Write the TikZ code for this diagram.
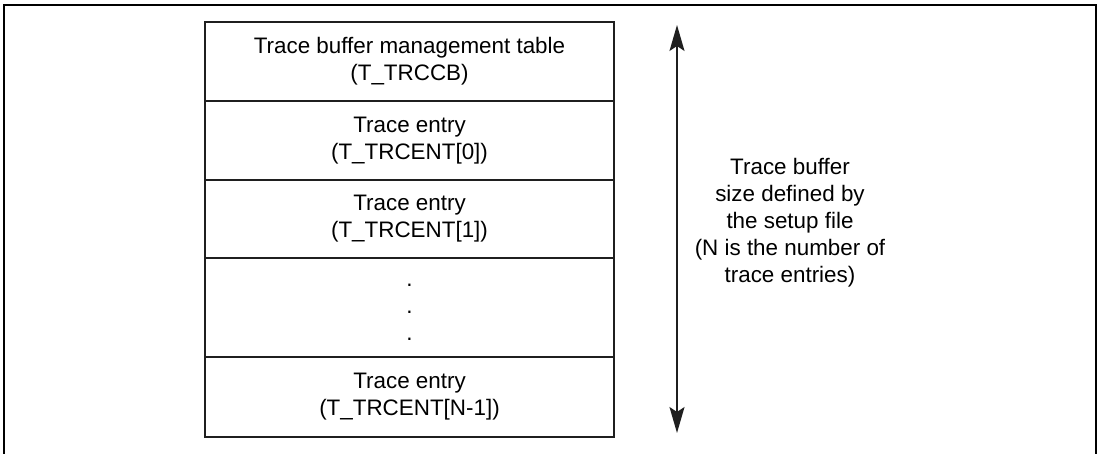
\documentclass[tikz,border=0pt]{standalone}
\usepackage{fontspec}
\setmainfont{Liberation Sans}
\usetikzlibrary{arrows.meta}
\begin{document}
\begin{tikzpicture}[x=1pt,y=-1pt,
  frame/.style={line width=2.8pt, draw=black},
  cell/.style={draw=black!88, line width=2.3pt, minimum width=409pt, inner sep=0pt,
    outer sep=0pt, align=center, anchor=north, font=\fontsize{22.4}{27}\selectfont},
  sidenote/.style={align=center, inner sep=0pt, font=\fontsize{22.4}{27}\selectfont},
  span/.style={line width=1.6pt, draw=black!88,
    {Stealth[length=26pt,width=15pt,inset=5pt]}-{Stealth[length=26pt,width=15pt,inset=5pt]}}]
\clip (0,0) rectangle (1100,453);
\draw[frame] (4,5) rectangle (1096,480);

% memory layout of the trace buffer
\node[cell, minimum height=79pt] (ctl) at (409.5,22)
  {Trace buffer management table\\(T\_TRCCB)};
\node[cell, minimum height=79pt] (e0) at (409.5,101)
  {Trace entry\\(T\_TRCENT[0])};
\node[cell, minimum height=78pt] (e1) at (409.5,180)
  {Trace entry\\(T\_TRCENT[1])};
\node[cell, minimum height=99pt] (dots) at (409.5,258) {};
\path (dots.center) ++(0,5) node[sidenote] (dotstext) {.\\.\\.};
\node[cell, minimum height=80pt] (elast) at (409.5,357)
  {Trace entry\\(T\_TRCENT[N-1])};

% extent of the whole buffer
\coordinate (top) at (677,25);
\coordinate (bot) at (677,433);
\draw[span] (top) -- (bot);

\node[sidenote] (size) at (790,223)
  {Trace buffer\\size defined by\\the setup file\\(N is the number of\\trace entries)};
\end{tikzpicture}
\end{document}
